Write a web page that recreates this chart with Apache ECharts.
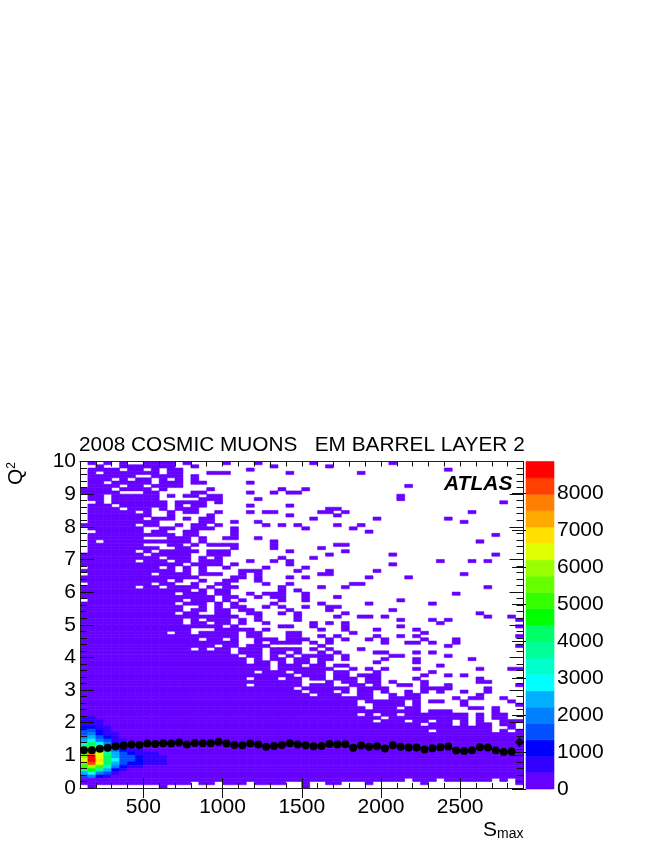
<!DOCTYPE html>
<html>
<head>
<meta charset="utf-8">
<style>
  html, body { margin: 0; padding: 0; background: #fff; }
  #chart { width: 664px; height: 860px; }
</style>
<script src="https://cdn.jsdelivr.net/npm/echarts@6/dist/echarts.min.js"></script>
</head>
<body>
<div id="chart"></div>
<script>
const sMaxTicks = [500, 1000, 1500, 2000, 2500];
const colorTicks = [0, 1000, 2000, 3000, 4000, 5000, 6000, 7000, 8000];
const sMaxBinWidth = 50;
const q2BinWidth = 0.1;
const countMax = 8850;
const lowCount = 100; // every sparse bin sits in the lowest colour band

const levelColors = [
  "#6600ff", "#3300ff", "#0000ff", "#0050ff", "#0080ff",
  "#00b0ff", "#00ffff", "#00ffcc", "#00ff99", "#00ff66",
  "#00ff00", "#33ff00", "#66ff00", "#99ff00", "#e0ff00",
  "#ffe000", "#ffaa00", "#ff8000", "#ff4000", "#ff0000",
];

// filled bins per Q2 row, top row (Q2 9.9-10) first, as S_max bin numbers
const occupiedRows = [
  "1 3 5 8-11 13 18 22 29 39",
  "2 5-11 14 24 31",
  "1-4 6-7 9 11-12 21 46",
  "1 3-9 11-12 16-18 26 35",
  "1-6 9-12 14",
  "1-3 5 7-8 10 12 14",
  "1-2 4-8 10-12 14-15 21",
  "1-4 6-7 9-12 41",
  "0-3 5-8 10 16 25 28",
  "0-4 8-9 14-15 21 24 26-27",
  "1-2 4-9 11 13-14 16-17 40",
  "1-2 4-9 15-17 22 40",
  "2 4-10 12-15 17 53",
  "1-3 5-10 12 14-15 21 26",
  "1-4 6-8 10 12-14 31-32",
  "1-6 8 11 13-14 17 21 23-24 30-31 33 49",
  "1-8 11 16 26 32",
  "1-7 9-11 13 15-16 29 37 46",
  "1-9 15-16 19 22 48",
  "0-6 8-9 12 14-15 17 23 25 27 32 35",
  "1-7 10-11 14-16 19 28 34",
  "2-7 9-10 13-14 19 36",
  "1-11 13-14 19 52",
  "1-7 11-13 15 18-19 22",
  "1 3-13 15 24 50",
  "1-7 11-12 14 16-19 24 32-33",
  "1-9 12-13 19 24 30",
  "1-6 8 10-14 16-18 26 33",
  "0-7 9-13 16-18 31 39 52",
  "0-9 11-13 15 17 25 29",
  "0-6 8-10 12-13 15-17 21 24 26 45 49 51",
  "0-12 14-17 19 26 39",
  "1-9 11 13 15 18 23 28",
  "0-11 13 15 20-22 27 31 37",
  "1-8 10-13 15-17 20 22 30-31 48",
  "0-14 19-20 22 26 28 36 41",
  "0-10 12 15 18-19 22",
  "1-8 10-11 14 17-18 23 26 34-35",
  "0-6 8-9 11-14 16 18-19 25 30 33 51",
  "0-13 15 17-18 25 27",
  "0-11 13-15 17-18 21 23-25 28 47",
  "0-16 18-19 22 24-25 28 32",
  "1-12 14-16 18 20 25 28 40",
  "0-11 13-15 17 19 24 30 36 44",
  "0-12 15 17 19-20 23 25 28 31-32",
  "0-12 14-15 17-18 20-21 26 31 39",
  "0-11 13-14 17-18 21-22 25 27 33 50",
  "0-19 22 27 32 35-36 38 51 54",
  "0-12 14 16-18 20 22 27 40 44 46 55",
  "0-12 14-15 17-18 20 23 29 31 33 45",
  "0-17 19 25-26 29 33 40 55",
  "0-13 17-21 23 30 33 37 42",
  "0-10 12-13 15-19 21-22 26-27 34 43",
  "0-19 21-22 26-27 30 32 37 40 42 55",
  "0-14 16-17 19 22-24 26-28 31 33 36 38 43 47",
  "0-19 22 24-27 29 31 38 41-42 44 47",
  "0-16 18-19 21-23 30 46 55",
  "0-13 15 17-18 20-22 24-27 29 31 35",
  "0-18 20-22 24-25 27 30 32 37-38 42 44",
  "0-19 21-22 24 26 28-31 33 39-40 46",
  "0-20 22 24-25 27-28 30-31 33 38 42 49",
  "0-20 22-23 25 27-28 30 37 42",
  "0-23 25-27 29-30 32-33 45",
  "0-23 25-31 34 36 38 42 50 54-55",
  "0-21 23-25 27-30 32-33 37 44",
  "0-26 28-30 32-33 35-37 43 46 48",
  "0-20 22-24 26-27 29-30 32-34 36-37 42 50",
  "0-27 31 33-34 36-37 39 43 50-51",
  "0-20 22-27 29-31 34-35 37 40-41 43 46 55",
  "0-26 28-33 35-38 43-46 51",
  "0-27 29-31 33 35-36 38 41 43 45 48 51",
  "0-28 30-32 35-36 39 41-42 50",
  "0-36 39-42 47 49-50 53",
  "0-34 36-40 42 44-45 48 54",
  "0-34 37-40 42 48 55",
  "0-35 37-39 41-42 49-50 52",
  "0-42 44-46 52",
  "0-34 36 38-39 41-48 50 52-53",
  "0-37 39-48 50 52-53",
  "0-36 38-40 42-43 45-46 48 50 53-55",
  "0-42 44-46 48 50-51 53-54",
  "0-51 54",
  "0-43 45-51 53 55",
  "0-55", "0-55", "0-55", "0-55", "0-55", "0-55", "0-55",
  "0-55", "0-55", "0-55", "0-55", "0-55", "0-55", "0-55",
  "0-40 42-44 46-51 53 55",
  "0-13 15-16 18-20 22-25 28 31-32 36 43 55",
  "1 10 28",
  "",
];

// the dense blob: counts for rows 78..96, first S_max bins
const coreFirstRow = 78;
const coreCounts = [
  [500, 500, 300],
  [500, 600, 500, 300],
  [700, 700, 600, 400],
  [1000, 1000, 800, 500, 300],
  [1400, 1600, 1100, 700, 300],
  [1600, 1900, 1300, 800, 500],
  [2100, 2500, 1600, 1100, 600, 300],
  [2600, 3000, 2100, 1500, 800, 500],
  [3400, 4000, 2700, 1800, 1200, 600, 300],
  [4100, 4900, 3200, 2100, 1500, 900, 500, 300],
  [4900, 5700, 4100, 2600, 1800, 1200, 800, 500, 300],
  [5700, 7800, 6200, 3700, 2500, 1600, 1200, 800, 500, 500],
  [5900, 8700, 6600, 4400, 2600, 1600, 1400, 1100, 700, 600, 600],
  [6200, 8700, 7000, 4400, 2800, 1700, 1400, 1100, 700, 700, 600],
  [5700, 8300, 6500, 4000, 2600, 1500, 1100, 1000, 700, 600, 600],
  [5000, 6000, 5200, 3400, 2000, 1100, 700, 500],
  [3900, 4600, 3800, 2500, 1100, 700],
  [2500, 3000, 1900, 1400, 600],
  [1500, 1900, 1300, 600, 300],
];

// black profile, one point per S_max bin
const profileQ2 = [
  1.16, 1.16, 1.2, 1.23, 1.27, 1.3, 1.33, 1.32, 1.36, 1.35, 1.37, 1.36, 1.39, 1.33,
  1.38, 1.37, 1.37, 1.41, 1.36, 1.32, 1.31, 1.36, 1.33, 1.26, 1.29, 1.32, 1.37, 1.33,
  1.31, 1.28, 1.29, 1.35, 1.33, 1.34, 1.23, 1.3, 1.26, 1.28, 1.21, 1.31, 1.26, 1.24,
  1.24, 1.18, 1.22, 1.25, 1.27, 1.15, 1.13, 1.16, 1.25, 1.24, 1.16, 1.1, 1.12, 1.4,
];

const font = "'Liberation Sans', Arial, sans-serif";
const sMaxOf = (bin) => 100 + bin * sMaxBinWidth;

// [x0, x1, y0, y1, count]
const cells = [];
occupiedRows.forEach((row, r) => {
  row.split(" ").filter(Boolean).forEach((run) => {
    const [a, b] = run.split("-").map(Number);
    for (let c = a; c <= (b === undefined ? a : b); c++) {
      const core = (coreCounts[r - coreFirstRow] || [])[c];
      const top = 10 - r * q2BinWidth;
      cells.push([sMaxOf(c), sMaxOf(c + 1), top - q2BinWidth, top, core || lowCount]);
    }
  });
});

const levelStep = countMax / levelColors.length;
const colorCells = levelColors.map((_, i) => [0, 1, i * levelStep, (i + 1) * levelStep, (i + 0.5) * levelStep]);
const pieces = levelColors.map((color, i) => ({ min: i * levelStep, max: (i + 1) * levelStep, color }));

const profile = profileQ2.map((q, i) => [sMaxOf(i) + sMaxBinWidth / 2, q]);

function renderBin(params, api) {
  const p0 = api.coord([api.value(0), api.value(3)]);
  const p1 = api.coord([api.value(1), api.value(2)]);
  const color = api.visual("color");
  return {
    type: "rect",
    shape: { x: p0[0], y: p0[1], width: p1[0] - p0[0], height: p1[1] - p0[1] },
    // thin same-colour stroke hides the antialiasing seams between bins
    style: { fill: color, stroke: color, lineWidth: 0.6 },
  };
}

const axisLine = { show: true, onZero: false, lineStyle: { color: "#222", width: 1 } };
const tickLine = { color: "#111", width: 1 };
const plainNumber = (v) => String(v);

// S_max needs four axes: long ticks at 500s, short ticks at 100s, bottom and top
function sMaxAxis(position, major, labels) {
  return {
    type: "value",
    gridIndex: 0,
    position: position,
    min: 100,
    max: 2900,
    interval: 100,
    z: 3,
    splitLine: { show: false },
    axisLine: major ? { show: false } : axisLine,
    axisTick: major
      ? { inside: true, length: 10, lineStyle: tickLine, customValues: sMaxTicks }
      : { inside: true, length: 5, lineStyle: tickLine },
    axisLabel: labels
      ? { customValues: sMaxTicks, formatter: plainNumber, color: "#000", fontFamily: font, fontSize: 21, margin: 9 }
      : { show: false },
  };
}

function q2Axis(position, labels) {
  return {
    type: "value",
    gridIndex: 0,
    position: position,
    min: 0,
    max: 10,
    interval: 1,
    z: 3,
    splitLine: { show: false },
    axisLine: axisLine,
    axisTick: { inside: true, length: 14, lineStyle: tickLine },
    minorTick: { show: true, splitNumber: 5, length: 7, lineStyle: tickLine },
    axisLabel: labels
      ? { color: "#000", fontFamily: font, fontSize: 21, margin: 4 }
      : { show: false },
  };
}

const chart = echarts.init(document.getElementById("chart"));
chart.setOption({
  animation: false,
  backgroundColor: "#fff",
  title: {
    text: "2008 COSMIC MUONS   EM BARREL LAYER 2",
    left: 79,
    top: 435,
    padding: 0,
    textStyle: { fontFamily: font, fontSize: 20.8, fontWeight: "normal", color: "#000" },
  },
  grid: [
    { left: 80, top: 461.5, width: 443.5, height: 326.5 },
    { left: 526, top: 461.5, width: 28, height: 327.5 },
  ],
  xAxis: [
    sMaxAxis("bottom", false, true),
    sMaxAxis("bottom", true, false),
    sMaxAxis("top", false, false),
    sMaxAxis("top", true, false),
    { type: "value", gridIndex: 1, min: 0, max: 1, show: false },
  ],
  yAxis: [
    q2Axis("left", true),
    q2Axis("right", false),
    {
      type: "value",
      gridIndex: 1,
      position: "right",
      min: 0,
      max: countMax,
      z: 3,
      splitLine: { show: false },
      axisLine: { show: false },
      axisTick: { inside: true, length: 14, lineStyle: tickLine, customValues: colorTicks },
      axisLabel: { customValues: colorTicks, formatter: plainNumber, color: "#000", fontFamily: font, fontSize: 21, margin: 3 },
    },
  ],
  visualMap: {
    type: "piecewise",
    show: false,
    dimension: 4,
    seriesIndex: [0, 1],
    pieces: pieces,
  },
  series: [
    {
      type: "custom",
      xAxisIndex: 0,
      yAxisIndex: 0,
      renderItem: renderBin,
      clip: true,
      encode: { x: [0, 1], y: [2, 3] },
      data: cells,
      silent: true,
      z: 2,
    },
    {
      type: "custom",
      xAxisIndex: 4,
      yAxisIndex: 2,
      renderItem: renderBin,
      encode: { x: [0, 1], y: [2, 3] },
      data: colorCells,
      silent: true,
      z: 2,
    },
    {
      type: "line",
      xAxisIndex: 0,
      yAxisIndex: 0,
      data: profile.slice(0, -1),
      symbol: "circle",
      symbolSize: 8,
      showSymbol: true,
      showAllSymbol: true,
      itemStyle: { color: "#000" },
      lineStyle: { color: "#000", width: 1 },
      silent: true,
      z: 5,
    },
    {
      type: "scatter",
      xAxisIndex: 0,
      yAxisIndex: 0,
      data: profile.slice(-1),
      symbol: "diamond",
      symbolSize: 10,
      itemStyle: { color: "#000" },
      silent: true,
      z: 5,
    },
  ],
  graphic: [
    {
      type: "text",
      left: 444,
      top: 474,
      z: 10,
      style: {
        text: "ATLAS",
        fill: "#000",
        font: "italic bold 21px " + font,
      },
    },
    {
      type: "text",
      x: 6,
      y: 485,
      rotation: Math.PI / 2,
      z: 10,
      style: {
        text: "Q{sup|2}",
        fill: "#000",
        font: "21px " + font,
        rich: { sup: { font: "12px " + font, fill: "#000", verticalAlign: "top", padding: [0, 0, 8, 0] } },
      },
    },
    {
      type: "text",
      left: 483,
      top: 820,
      z: 10,
      style: {
        text: "S{sub|max}",
        fill: "#000",
        font: "21px " + font,
        rich: { sub: { font: "14px " + font, fill: "#000", verticalAlign: "bottom", padding: [8, 0, 0, 0] } },
      },
    },
  ],
});
</script>
</body>
</html>
